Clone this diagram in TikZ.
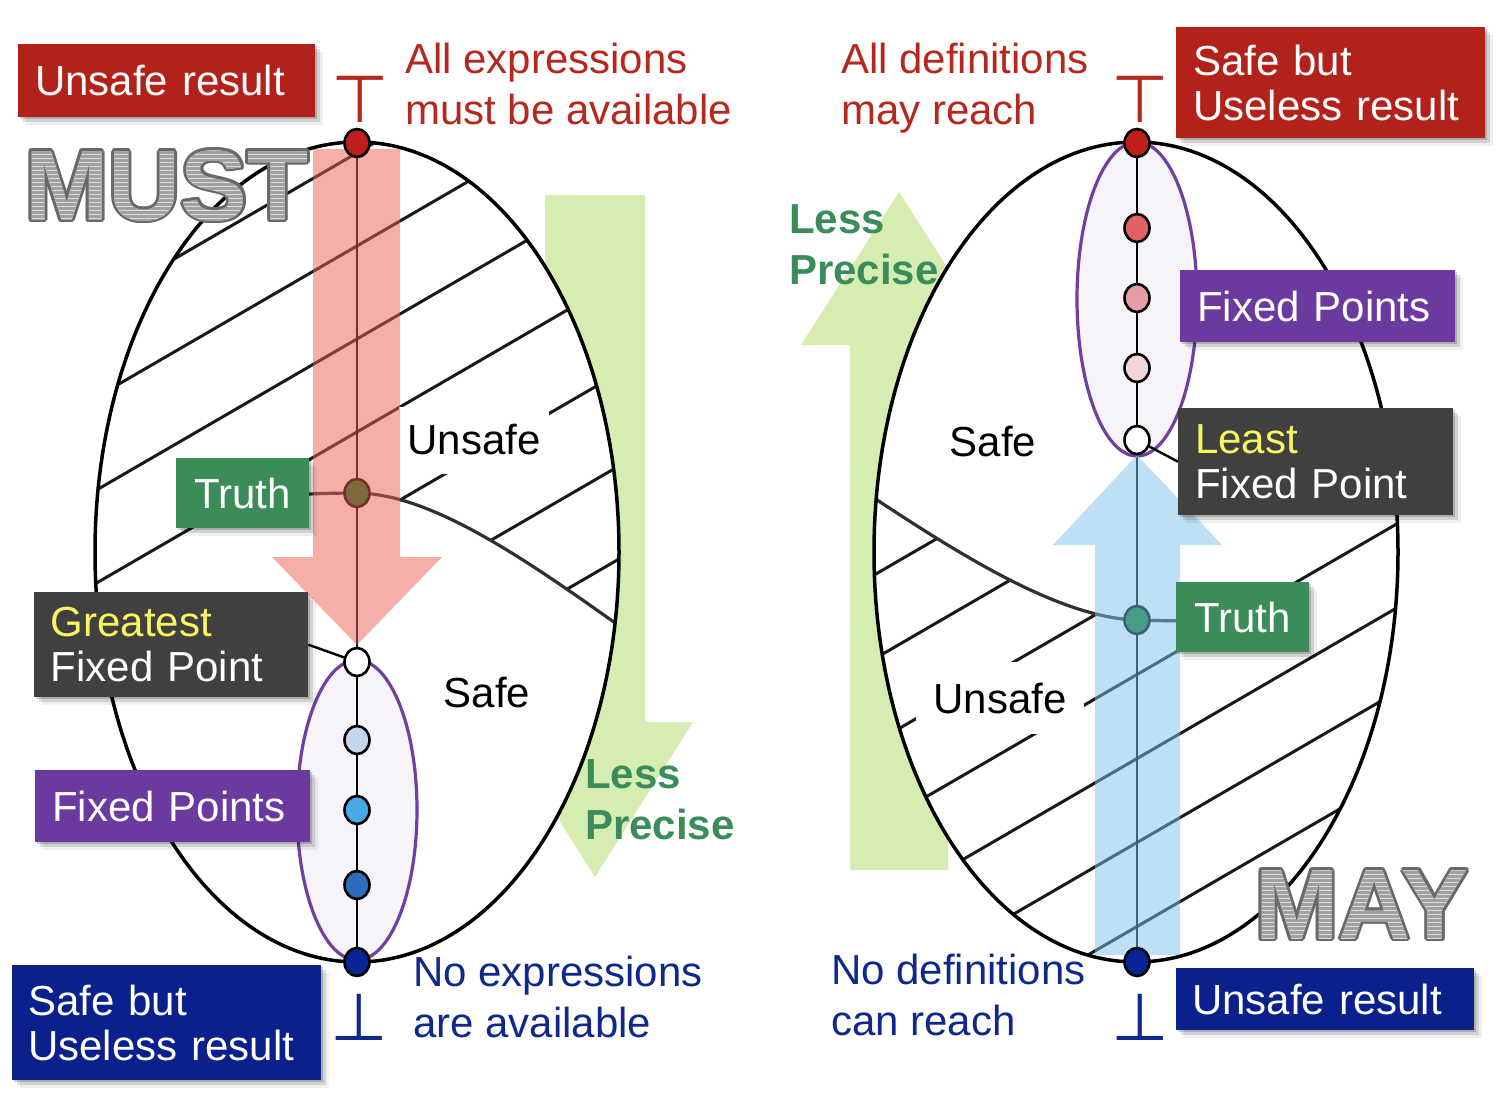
\documentclass[tikz,border=0pt]{standalone}
\usepackage{fontspec}
\setmainfont{Liberation Sans}
\newfontfamily\symfont{DejaVu Sans}
\usetikzlibrary{shapes.geometric,shadows}

\definecolor{boxred}{RGB}{178,34,26}
\definecolor{txtred}{RGB}{181,40,30}
\definecolor{boxblue}{RGB}{10,32,140}
\definecolor{txtblue}{RGB}{14,40,140}
\definecolor{boxgreen}{RGB}{60,140,90}
\definecolor{boxpurple}{RGB}{106,58,158}
\definecolor{boxdark}{RGB}{64,64,64}
\definecolor{hiyellow}{RGB}{250,245,95}
\definecolor{precgreen}{RGB}{58,140,90}
\definecolor{arrgreen}{RGB}{214,237,178}
\definecolor{arrred}{RGB}{238,95,85}
\definecolor{arrblue}{RGB}{126,194,235}
\definecolor{fixpurple}{RGB}{112,64,160}
\definecolor{fixfill}{RGB}{246,243,249}
\definecolor{truthdot}{RGB}{15,120,38}
\definecolor{wordlight}{RGB}{222,222,222}
\definecolor{wordstripe}{RGB}{160,160,160}
\definecolor{wordedge}{RGB}{105,105,105}
\definecolor{hatchgray}{RGB}{25,25,25}
\definecolor{topred}{RGB}{192,30,26}
\definecolor{lfix2}{RGB}{196,213,236}
\definecolor{lfix3}{RGB}{72,170,228}
\definecolor{lfix4}{RGB}{44,110,186}
\definecolor{botblue}{RGB}{8,36,150}
\definecolor{rfix2}{RGB}{224,98,100}
\definecolor{rfix3}{RGB}{226,158,164}
\definecolor{rfix4}{RGB}{244,212,214}

\newcommand\bodyfont{\fontsize{42}{51}\selectfont}
\newcommand\boxfont{\fontsize{42}{45}\selectfont}
\newcommand\bigword{\fontsize{100}{100}\selectfont\bfseries}

% Large striped, outlined word: #1 name, #2 x, #3 y (top left), #4 text
\newcommand\stripedword[4]{%
  \foreach \a in {0,30,...,330}
    \node[word, text=wordedge, xshift={2.8*cos(\a)}, yshift={2.8*sin(\a)}] (#1-edge-\a) at (#2,#3) {#4};
  \node[word, text=wordlight] (#1) at (#2,#3) {#4};
  \foreach \k in {0,...,21}{
    \begin{scope}
      \clip (#2-10,{#3+1+4*\k}) rectangle (#2+330,{#3+3+4*\k});
      \node[word, text=wordstripe] (#1-stripe-\k) at (#2,#3) {#4};
    \end{scope}
  }%
}

\begin{document}
\begin{tikzpicture}[x=1pt,y=-1pt,
  softshadow/.style={
    drop shadow={shadow xshift=2pt,shadow yshift=-2pt,opacity=.18,fill=black},
    drop shadow={shadow xshift=5pt,shadow yshift=-5pt,opacity=.12,fill=black},
    drop shadow={shadow xshift=8pt,shadow yshift=-8pt,opacity=.06,fill=black}},
  labelbox/.style={rectangle, anchor=north west, inner xsep=17pt, inner ysep=0pt,
    align=left, text=white, font=\boxfont, softshadow},
  plain/.style={anchor=north west, inner sep=0pt, align=left, font=\bodyfont},
  region/.style={font=\bodyfont, inner sep=0pt},
  dot/.style={ellipse, draw=black, line width=2.6pt, minimum width=25pt,
    minimum height=28pt, inner sep=0pt},
  hatch/.style={line width=3pt, draw=hatchgray},
  bound/.style={line width=3.2pt, draw=hatchgray!90},
  rim/.style={line width=3.5pt, draw=black},
  lattice/.style={line width=1.8pt, draw=black},
  fixset/.style={draw=fixpurple, line width=3.2pt},
  sym/.style={font=\symfont\fontsize{66}{66}\selectfont, inner sep=0pt},
  word/.style={anchor=north west, inner sep=0pt, font=\bigword}]

\path[use as bounding box, fill=white] (0,0) rectangle (1500,1093);

% "Less Precise" arrows behind both lattices
\fill[arrgreen] (545,195) -- (645,195) -- (645,722) -- (693,722) -- (595,877)
  -- (497,722) -- (545,722) -- cycle;
\fill[arrgreen] (850,870) -- (948,870) -- (948,345) -- (997,345) -- (899,192)
  -- (801,345) -- (850,345) -- cycle;

% lattice bodies
\fill[white] (357,552) ellipse [x radius=262, y radius=410];
\fill[white] (1136,552) ellipse [x radius=262, y radius=410];

% hatched unsafe region, MUST lattice (above the truth curve)
\begin{scope}
  \clip (357,552) ellipse [x radius=262, y radius=410];
  \clip (625,630) .. controls (520,555) and (430,494) .. (357,493)
    .. controls (320,493) and (280,495) .. (250,498) -- (235,600) -- (80,600)
    -- (80,100) -- (660,100) -- (660,630) -- cycle;
  \foreach \b in {360,453,...,1110}
    \draw[hatch] (60,{\b-0.58*60}) -- (660,{\b-0.58*660});
\end{scope}

% hatched unsafe region, MAY lattice (below the truth curve)
\begin{scope}
  \clip (1136,552) ellipse [x radius=262, y radius=410];
  \clip (860,480) -- (870,495) .. controls (960,555) and (1060,618) .. (1137,620)
    .. controls (1170,621) and (1190,621) .. (1205,621) -- (1250,585)
    -- (1330,512) -- (1420,470) -- (1420,1000) -- (860,1000) -- cycle;
  \foreach \b in {1082,1166,...,1850}
    \draw[hatch] (850,{\b-0.58*850}) -- (1420,{\b-0.58*1420});
\end{scope}

% region names, masking the hatching behind them
\node[region, fill=white, minimum width=150pt, minimum height=67pt] (unsafeL) at (474,440) {Unsafe};
\node[region] (safeL) at (487,692) {Safe};
\node[region, fill=white, minimum width=168pt, minimum height=72pt] (unsafeR) at (1000,698) {Unsafe};
\node[region] (safeR) at (993,442) {Safe};

% sets of fixed points (fill)
\fill[fixfill] (357,810) ellipse [x radius=60, y radius=150];
\fill[fixfill] (1137,299) ellipse [x radius=60, y radius=157];

% truth curves
\begin{scope}
  \clip (357,552) ellipse [x radius=262, y radius=410];
  \draw[bound] (250,498) .. controls (280,495) and (320,493) .. (357,493)
    .. controls (430,494) and (520,555) .. (625,630);
\end{scope}
\begin{scope}
  \clip (1136,552) ellipse [x radius=262, y radius=410];
  \draw[bound] (865,492) .. controls (960,555) and (1060,618) .. (1137,620)
    .. controls (1170,621) and (1190,621) .. (1205,621);
\end{scope}

% lattice outlines
\draw[rim] (357,552) ellipse [x radius=262, y radius=410];
\draw[rim] (1136,552) ellipse [x radius=262, y radius=410];

% chains from top to bottom
\coordinate (lt) at (357,143);
\coordinate (lb) at (357,962);
\coordinate (rt) at (1137,143);
\coordinate (rb) at (1137,962);
\draw[lattice] (lt) -- (lb);
\draw[lattice] (rt) -- (rb);

% sets of fixed points (outline)
\draw[fixset] (357,810) ellipse [x radius=60, y radius=150];
\draw[fixset] (1137,299) ellipse [x radius=60, y radius=157];

% truth points
\node[dot, fill=truthdot] (ltruth) at (357,493) {};
\node[dot, fill=truthdot] (rtruth) at (1137,620) {};

% iteration direction arrows
\fill[arrred, opacity=.5] (313,149) -- (400,149) -- (400,557) -- (442,557)
  -- (357,645) -- (272,557) -- (313,557) -- cycle;
\fill[arrblue, opacity=.5] (1095,955) -- (1180,955) -- (1180,545) -- (1222,545)
  -- (1137,455) -- (1053,545) -- (1095,545) -- cycle;

% MUST lattice points
\node[dot, fill=topred] (ltop) at (lt) {};
\node[dot, fill=white] (lfix1) at (357,662) {};
\node[dot, fill=lfix2] (lfix2) at (357,740) {};
\node[dot, fill=lfix3] (lfix3) at (357,810) {};
\node[dot, fill=lfix4] (lfix4) at (357,885) {};
\node[dot, fill=botblue] (lbot) at (lb) {};

% MAY lattice points
\node[dot, fill=topred] (rtop) at (rt) {};
\node[dot, fill=rfix2] (rfix2) at (1137,228) {};
\node[dot, fill=rfix3] (rfix3) at (1137,298) {};
\node[dot, fill=rfix4] (rfix4) at (1137,368) {};
\node[dot, fill=white] (rfix5) at (1137,440) {};
\node[dot, fill=botblue] (rbot) at (rb) {};

% top and bottom symbols
\node[sym, text=txtred] (topsymL) at (360,99) {⊤};
\node[sym, text=txtblue] (botsymL) at (359,1017) {⊥};
\node[sym, text=txtred] (topsymR) at (1140,99) {⊤};
\node[sym, text=txtblue] (botsymR) at (1140,1017) {⊥};

% explanations
\node[plain, text=txtred] (mustTop) at (405,43) {All expressions\\must be available};
\node[plain, text=txtblue] (mustBot) at (413,956) {No expressions\\are available};
\node[plain, text=txtred] (mayTop) at (841,43) {All definitions\\may reach};
\node[plain, text=txtblue] (mayBot) at (831,954) {No definitions\\can reach};
\node[plain, text=precgreen, font=\bodyfont\bfseries] (lessL) at (585,759) {Less\\Precise};
\node[plain, text=precgreen, font=\bodyfont\bfseries] (lessR) at (789,204) {Less\\Precise};

% result boxes
\node[labelbox, fill=boxred, text width=263pt, minimum height=73pt] (resL) at (18,44) {Unsafe result};
\node[labelbox, fill=boxblue, inner xsep=16pt, text width=277pt, minimum height=115pt] (useL) at (12,965) {Safe but\\Useless result};
\node[labelbox, fill=boxred, text width=275pt, minimum height=111pt] (useR) at (1176,27) {Safe but\\Useless result};
\node[labelbox, fill=boxblue, inner xsep=16pt, text width=266pt, minimum height=62pt] (resR) at (1176,968) {Unsafe result};

% point labels
\node[labelbox, fill=boxgreen, inner xsep=18pt, text width=97pt, minimum height=70pt] (truthL) at (176,458) {Truth};
\node[labelbox, fill=boxgreen, inner xsep=18pt, text width=97pt, minimum height=70pt] (truthR) at (1176,582) {Truth};
\node[labelbox, fill=boxdark, inner xsep=16.5pt, text width=241pt, minimum height=105pt] (gfp) at (34,592) {\textcolor{hiyellow}{Greatest}\\Fixed Point};
\node[labelbox, fill=boxdark, text width=241pt, minimum height=107pt] (lfp) at (1178,408) {\textcolor{hiyellow}{Least}\\Fixed Point};
\node[labelbox, fill=boxpurple, text width=241pt, minimum height=72pt] (fixL) at (35,770) {Fixed Points};
\node[labelbox, fill=boxpurple, text width=241pt, minimum height=72pt] (fixR) at (1180,270) {Fixed Points};

\draw[line width=2.4pt] (gfp.east) -- (lfix1);
\draw[line width=2.4pt] (lfp.west) -- (rfix5);

% analysis kinds
\stripedword{mustword}{25}{150}{MUST}
\stripedword{mayword}{1255}{870}{MAY}

\end{tikzpicture}
\end{document}
